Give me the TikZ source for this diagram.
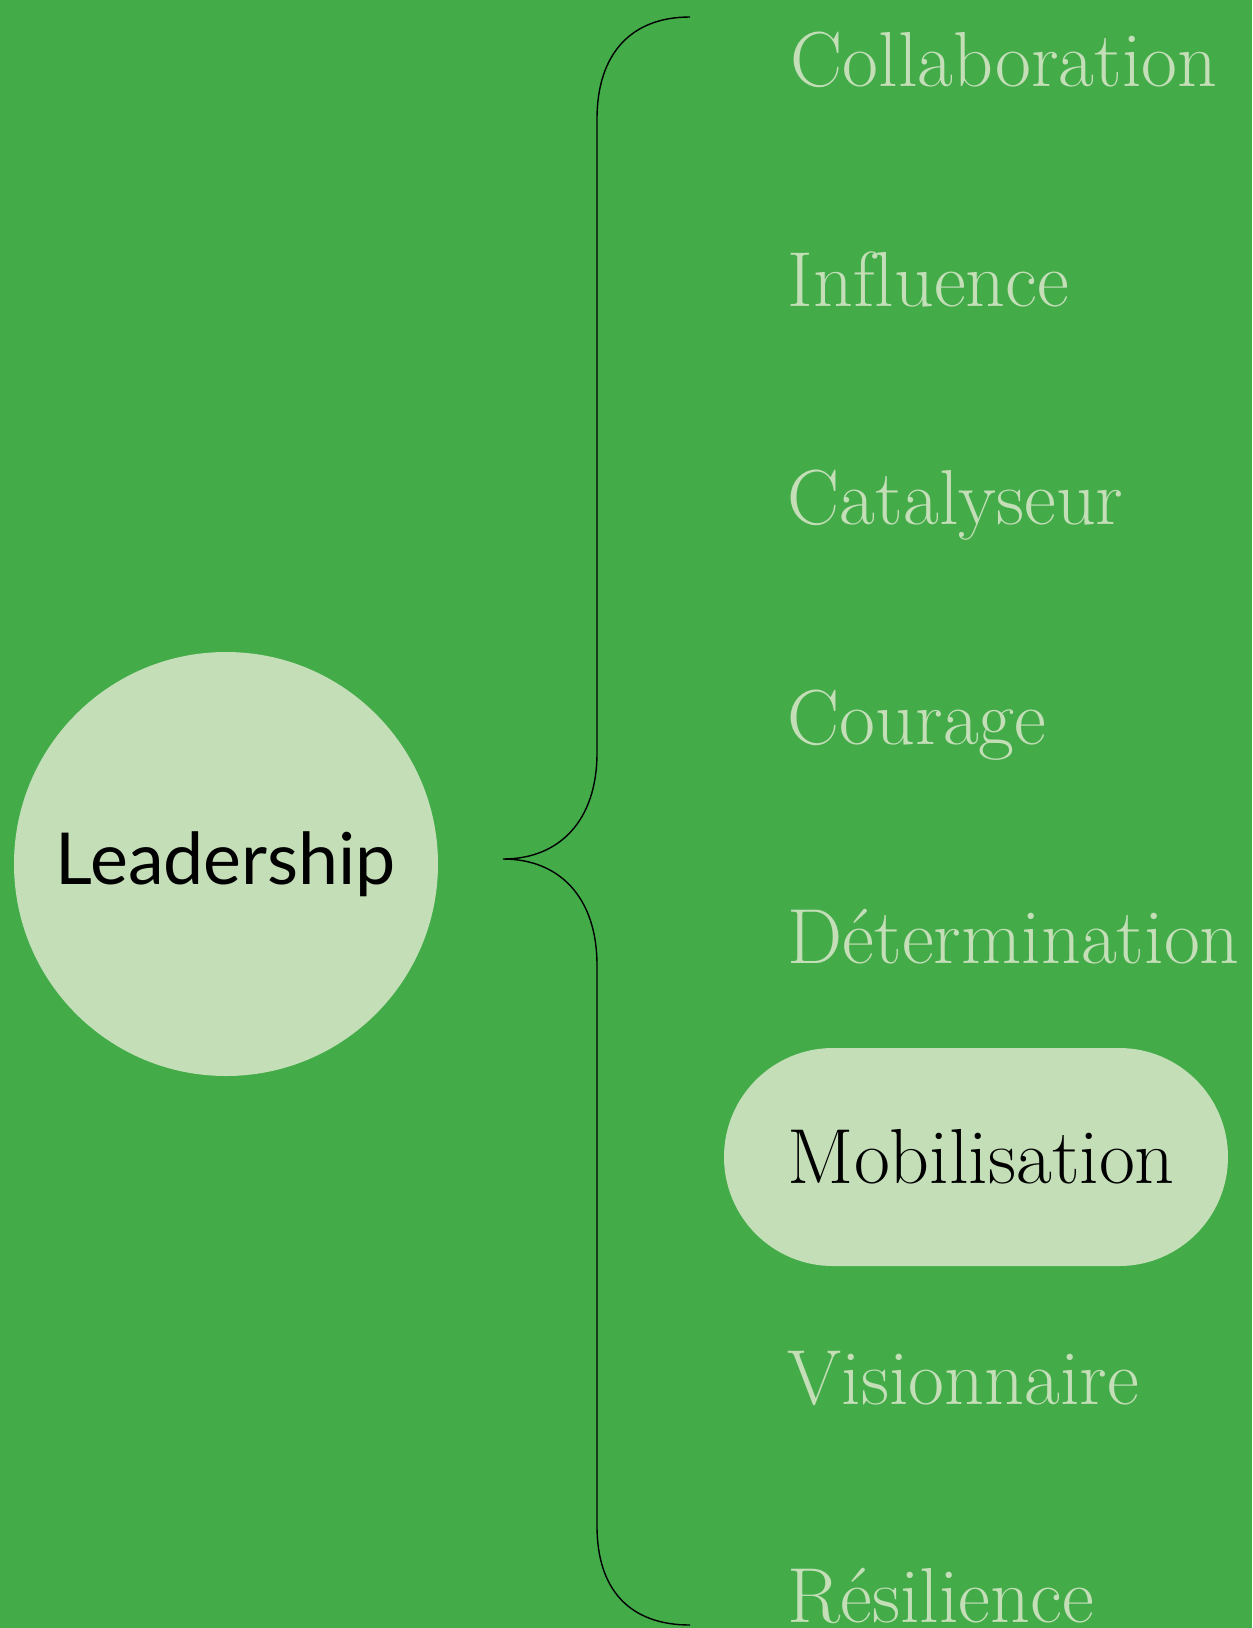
\documentclass[tikz,border=0pt]{standalone}
\usepackage{fontspec}
\setmainfont{Latin Modern Roman}[Ligatures={TeX,NoCommon}]
\setsansfont{Lato}
\usepackage{tikz}
\usetikzlibrary{positioning}
\definecolor{leafgreen}{HTML}{43AC49}
\definecolor{softgreen}{HTML}{C4DEB8}

\tikzset{
  topic/.style={anchor=base west, inner sep=0pt, text=softgreen, font=\fontsize{22.2}{26}\selectfont},
  pill/.style={fill=softgreen, rounded corners=1.09cm, minimum width=5.04cm, minimum height=2.18cm},
}

\begin{document}
\begin{tikzpicture}
\useasboundingbox (0,0) rectangle (12.52,-16.28);
\fill [leafgreen] (0,0) rectangle (12.52,-16.28);

\node[circle, fill=softgreen, minimum size=4.24cm] (hub) at (2.26,-8.64) {};
\node[font=\sffamily\fontsize{20.4}{24}\selectfont, anchor=base] (lead) at (2.26,-8.84) {Leadership};

% the brace
\coordinate (tip) at (5.03,-8.59);
\coordinate (btop) at (6.90,-0.17);
\coordinate (bbot) at (6.90,-16.25);
\draw[thin] (btop) .. controls (6.30,-0.17) and (5.97,-0.55) .. (5.97,-1.19)
  -- (5.97,-7.53) .. controls (5.97,-8.20) and (5.60,-8.59) .. (tip)
  .. controls (5.60,-8.59) and (5.97,-8.98) .. (5.97,-9.65)
  -- (5.97,-15.26) .. controls (5.97,-15.90) and (6.30,-16.25) .. (bbot);

\node[pill] (mobil) at (9.76,-11.57) {};

\node[topic] (collab) at (7.90,-0.86) {Collaboration};
\node[topic] (influ) at (7.87,-3.06) {Influence};
\node[topic] (cata) at (7.87,-5.24) {Catalyseur};
\node[topic] (cour) at (7.87,-7.44) {Courage};
\node[topic] (deter) at (7.87,-9.63) {Détermination};
\node[topic, text=black] (mobl) at (7.87,-11.83) {Mobilisation};
\node[topic] (vision) at (7.87,-14.04) {Visionnaire};
\node[topic] (resil) at (7.87,-16.22) {Résilience};
\end{tikzpicture}
\end{document}
